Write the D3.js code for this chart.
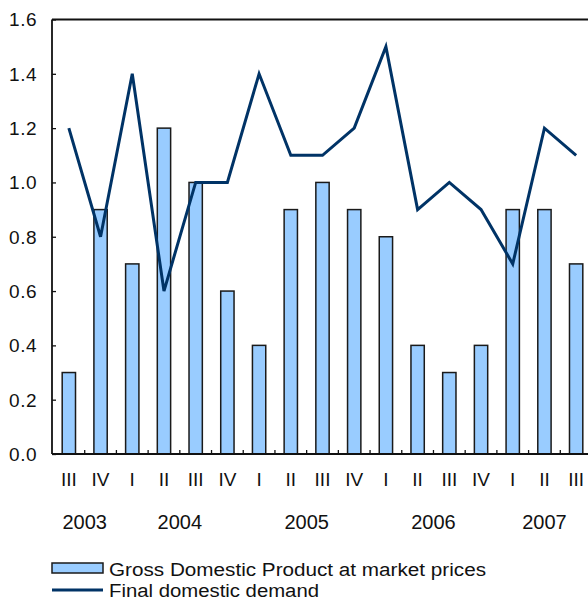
<!DOCTYPE html>
<html>
<head>
<meta charset="utf-8">
<script src="https://cdn.jsdelivr.net/npm/d3@7"></script>
<style>
  html, body { margin: 0; padding: 0; background: #fff; }
  svg { display: block; }
  text { font-family: "Liberation Sans", Arial, sans-serif; fill: #111; }
</style>
</head>
<body>
<svg id="chart" width="588" height="604"></svg>
<script>
const quarters = ["III","IV","I","II","III","IV","I","II","III","IV","I","II","III","IV","I","II","III"];
const years = ["2003","2004","2005","2006","2007"];
const yearQuarterCount = [2, 4, 4, 4, 3];
const gdp = [0.3, 0.9, 0.7, 1.2, 1.0, 0.6, 0.4, 0.9, 1.0, 0.9, 0.8, 0.4, 0.3, 0.4, 0.9, 0.9, 0.7];
const demand = [1.2, 0.8, 1.4, 0.6, 1.0, 1.0, 1.4, 1.1, 1.1, 1.2, 1.5, 0.9, 1.0, 0.9, 0.7, 1.2, 1.1];
const yTicks = [0, 0.2, 0.4, 0.6, 0.8, 1.0, 1.2, 1.4, 1.6];
const legendLabels = ["Gross Domestic Product at market prices", "Final domestic demand"];

(function () {
const svg = d3.select("#chart");
const mLeft = 52, mTop = 19.5, mBottom = 454, mRight = 592;
const idx = d3.range(quarters.length);

const x = d3.scaleBand().domain(idx).range([53, mRight]).paddingInner(0.58).paddingOuter(0.29);
const y = d3.scaleLinear().domain([0, 1.6]).range([mBottom, mTop]);
const cx = i => x(i) + x.bandwidth() / 2;

// Bars
svg.append("g").selectAll("rect").data(gdp).join("rect")
  .attr("x", (d, i) => x(i))
  .attr("y", d => y(d))
  .attr("width", x.bandwidth())
  .attr("height", d => y(0) - y(d))
  .attr("fill", "#99ccff")
  .attr("stroke", "#1a1a1a")
  .attr("stroke-width", 1.5);

// Line
svg.append("path")
  .datum(demand)
  .attr("fill", "none")
  .attr("stroke", "#003366")
  .attr("stroke-width", 3)
  .attr("stroke-linejoin", "miter")
  .attr("d", d3.line().x((d, i) => cx(i)).y(d => y(d)));

// Y axis ticks (inward)
const yAxis = d3.axisRight(y).tickValues(yTicks).tickSize(4).tickFormat("");
const yg = svg.append("g").attr("transform", `translate(${mLeft},0)`).call(yAxis);
yg.select(".domain").remove();
yg.selectAll(".tick line").attr("stroke", "#111").attr("stroke-width", 1.3);
svg.append("g").selectAll("text").data(yTicks).join("text")
  .attr("x", 37).attr("y", d => y(d)).attr("dy", "0.36em")
  .attr("text-anchor", "end")
  .attr("font-size", 19)
  .style("letter-spacing", "0.5px")
  .text(d => d3.format(".1f")(d));

// Frame lines
svg.append("line").attr("x1", mLeft).attr("x2", mLeft).attr("y1", mTop).attr("y2", mBottom)
  .attr("stroke", "#111").attr("stroke-width", 1.8);
svg.append("line").attr("x1", mLeft).attr("x2", 600).attr("y1", mTop).attr("y2", mTop)
  .attr("stroke", "#111").attr("stroke-width", 1.8);
svg.append("line").attr("x1", mLeft).attr("x2", 600).attr("y1", mBottom).attr("y2", mBottom)
  .attr("stroke", "#111").attr("stroke-width", 1.8);

// X ticks between categories (inward)
const boundaries = d3.range(1, quarters.length);
svg.append("g").selectAll("line").data(boundaries).join("line")
  .attr("x1", i => x(i) - x.step() * x.paddingInner() / 2)
  .attr("x2", i => x(i) - x.step() * x.paddingInner() / 2)
  .attr("y1", mBottom).attr("y2", mBottom - 4)
  .attr("stroke", "#111").attr("stroke-width", 1.3);

// Quarter labels
svg.append("g").selectAll("text").data(quarters).join("text")
  .attr("x", (d, i) => cx(i)).attr("y", 486)
  .attr("text-anchor", "middle")
  .attr("font-size", 19)
  .text(d => d);

// Year labels centered over their quarters
let start = 0;
const yearPos = yearQuarterCount.map(c => { const s = start; start += c; return (cx(s) + cx(s + c - 1)) / 2; });
svg.append("g").selectAll("text").data(years).join("text")
  .attr("x", (d, i) => yearPos[i]).attr("y", 529)
  .attr("text-anchor", "middle")
  .attr("font-size", 20)
  .text(d => d);

// Legend
svg.append("rect").attr("x", 52).attr("y", 563).attr("width", 51).attr("height", 10)
  .attr("fill", "#99ccff").attr("stroke", "#1a1a1a").attr("stroke-width", 1.5);
svg.append("line").attr("x1", 52).attr("x2", 103).attr("y1", 590).attr("y2", 590)
  .attr("stroke", "#003366").attr("stroke-width", 3);
svg.append("text").attr("x", 109).attr("y", 576).attr("font-size", 18)
  .attr("textLength", 377).attr("lengthAdjust", "spacingAndGlyphs")
  .text(legendLabels[0]);
svg.append("text").attr("x", 109).attr("y", 597).attr("font-size", 18)
  .attr("textLength", 210).attr("lengthAdjust", "spacingAndGlyphs")
  .text(legendLabels[1]);
})();
</script>
</body>
</html>
